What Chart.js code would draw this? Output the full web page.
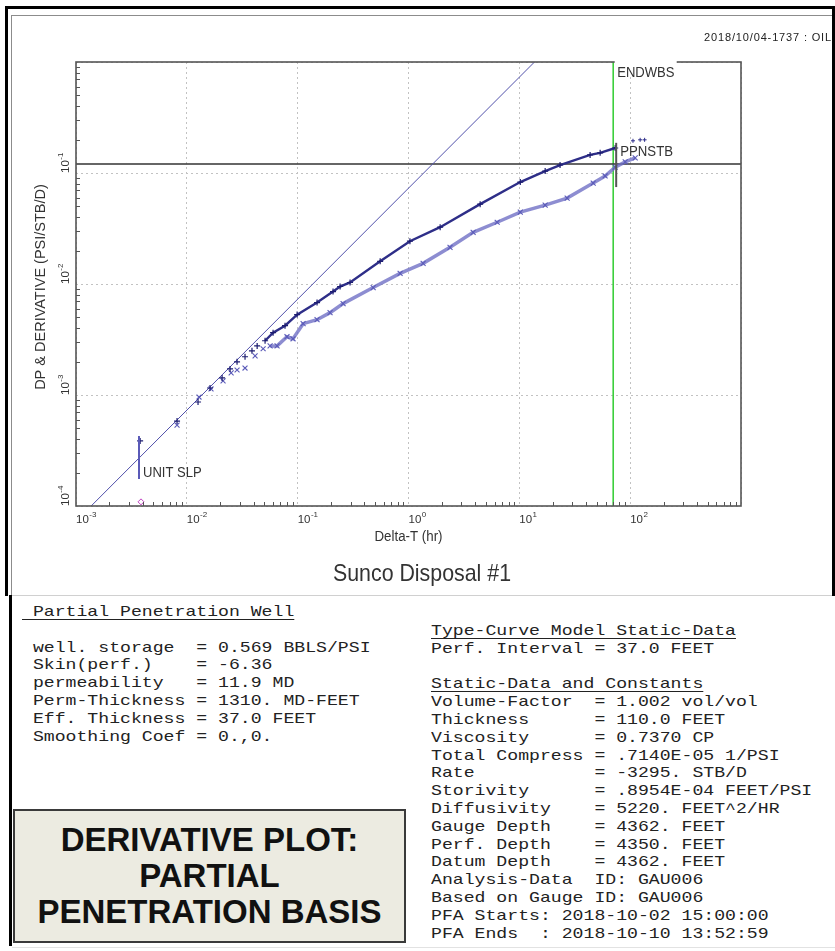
<!DOCTYPE html>
<html>
<head>
<meta charset="utf-8">
<script src="https://cdn.jsdelivr.net/npm/chart.js@4.4.1/dist/chart.umd.min.js"></script>
<style>
  body { margin: 0; background: #fff; }
  #page { position: relative; width: 835px; height: 951px; overflow: hidden; background: #fff; }
  .bar { position: absolute; background: #000; }
  #panel { position: absolute; left: 11px; top: 15px; width: 821px; height: 581px; box-sizing: border-box;
           border-top: 1px solid #8c8c8c; border-left: 1px solid #8c8c8c; border-bottom: 1px solid #d0d0d0; }
  #chart { position: absolute; left: 12px; top: 17px; }
  #stamp { position: absolute; right: 3px; top: 31px; font: 11px "Liberation Sans", Arial, sans-serif;
           letter-spacing: 0.85px; color: #222; white-space: nowrap; }
  pre.txt { position: absolute; margin: 0; font: 15px "Liberation Mono", monospace; line-height: 17.8px;
            color: #222; transform: scaleX(1.21); transform-origin: 0 0; }
  .ul { text-decoration: underline; text-underline-offset: 3px; text-decoration-thickness: 1px; }
  #box { position: absolute; left: 13px; top: 809px; width: 393px; height: 134px; box-sizing: border-box;
         border: 2px solid #3a3a3a; background: #ecebe1; text-align: center; color: #111;
         font: bold 33px "Liberation Sans", Arial, sans-serif; line-height: 36px; padding-top: 11px; }
</style>
</head>
<body>
<div id="page">
  <div id="panel"></div>
  <div class="bar" style="left:5px;top:6px;width:830px;height:3px"></div>
  <div class="bar" style="left:5px;top:6px;width:3px;height:590px"></div>
  <div class="bar" style="left:832px;top:6px;width:3px;height:590px"></div>
  <div class="bar" style="left:9px;top:595px;width:3px;height:351px"></div>
  <div style="position:absolute;left:12px;top:947px;width:823px;height:1px;background:#e2e2e2"></div>
  <canvas id="chart" width="820" height="578"></canvas>
  <div id="stamp">2018/10/04-1737 : OIL</div>
<pre class="txt" style="left:22px;top:604px"><span class="ul"> Partial Penetration Well</span>

 well. storage  = 0.569 BBLS/PSI
 Skin(perf.)    = -6.36
 permeability   = 11.9 MD
 Perm-Thickness = 1310. MD-FEET
 Eff. Thickness = 37.0 FEET
 Smoothing Coef = 0.,0.</pre>
<pre class="txt" style="left:431px;top:623px"><span class="ul">Type-Curve Model Static-Data</span>
Perf. Interval = 37.0 FEET

<span class="ul">Static-Data and Constants</span>
Volume-Factor  = 1.002 vol/vol
Thickness      = 110.0 FEET
Viscosity      = 0.7370 CP
Total Compress = .7140E-05 1/PSI
Rate           = -3295. STB/D
Storivity      = .8954E-04 FEET/PSI
Diffusivity    = 5220. FEET^2/HR
Gauge Depth    = 4362. FEET
Perf. Depth    = 4350. FEET
Datum Depth    = 4362. FEET
Analysis-Data  ID: GAU006
Based on Gauge ID: GAU006
PFA Starts: 2018-10-02 15:00:00
PFA Ends  : 2018-10-10 13:52:59</pre>
  <div id="box">DERIVATIVE PLOT:<br>PARTIAL<br>PENETRATION BASIS</div>
</div>

<script>
// Delta-T (hr) vs DP (psi/STB/D)
const dpTime = [0.00379, 0.00816, 0.01262, 0.01619, 0.0208, 0.02455, 0.02838, 0.0335, 0.0387, 0.0431, 0.0508, 0.060, 0.0769, 0.0989, 0.1496, 0.2085, 0.2415, 0.297, 0.555, 1.03, 1.93, 4.43, 10.2, 17.1, 23.3, 43.5, 53.6, 73.3];
const dpValue = [3.86e-4, 5.82e-4, 8.65e-4, 1.156e-3, 1.426e-3, 1.718e-3, 1.99e-3, 2.21e-3, 2.50e-3, 2.77e-3, 3.08e-3, 3.64e-3, 4.21e-3, 5.30e-3, 6.80e-3, 8.55e-3, 9.49e-3, 0.01032, 0.0160, 0.0243, 0.0325, 0.0524, 0.0829, 0.104, 0.118, 0.1455, 0.152, 0.168];
// a few points after the end of the analysis window
const dpLateTime = [106, 123, 135];
const dpLateValue = [0.195, 0.199, 0.199];

// Delta-T (hr) vs derivative (psi/STB/D)
const derTime = [0.00816, 0.01288, 0.01652, 0.02123, 0.0251, 0.0284, 0.0335, 0.0413, 0.0488, 0.0564, 0.0652, 0.0801, 0.0908, 0.112, 0.1496, 0.196, 0.257, 0.48, 0.84, 1.355, 2.37, 3.83, 6.31, 10.2, 17.1, 27.0, 46.4, 59.4, 73.3, 90.2, 111];
const derValue = [5.36e-4, 9.59e-4, 1.133e-3, 1.34e-3, 1.58e-3, 1.68e-3, 1.75e-3, 2.25e-3, 2.61e-3, 2.77e-3, 2.77e-3, 3.35e-3, 3.21e-3, 4.39e-3, 4.77e-3, 5.52e-3, 6.66e-3, 9.29e-3, 0.01245, 0.01534, 0.0214, 0.0292, 0.0360, 0.0444, 0.0513, 0.0594, 0.0812, 0.094, 0.113, 0.126, 0.137];

// reference lines and markers
const unitSlopeTime = [0.00137, 13.7];
const unitSlopeValue = [1e-4, 1];
const endwbsTime = 70.3;
const ppnstbLevel = 0.1205;
const ppnstbMarkTime = [74.8, 74.8];
const ppnstbMarkValue = [0.0747, 0.187];
const unitMarkTime = [0.0037, 0.0037];
const unitMarkValue = [1.75e-4, 4.27e-4];
const firstPointTime = [0.00386];
const firstPointValue = [1.09e-4];

const xExps = [-3, -2, -1, 0, 1, 2];   // labelled decades
const yExps = [-4, -3, -2, -1];

const pts = (xs, ys) => xs.map((t, i) => ({x: t, y: ys[i]}));
const decades = (a, b) => { const t = []; for (let e = a; e <= b; e++) t.push({value: Math.pow(10, e)}); return t; };
const FONT = '"Liberation Sans", Arial, sans-serif';

function narrowText(ctx, s, x, y, size, sx, align) {
  ctx.save();
  ctx.translate(x, y);
  ctx.scale(sx, 1);
  ctx.font = size + 'px ' + FONT;
  ctx.textAlign = align || 'left';
  ctx.fillText(s, 0, 0);
  ctx.restore();
}

function powLabel(ctx, e, x, y) {
  ctx.font = '11.5px ' + FONT;
  ctx.textAlign = 'left';
  ctx.fillText('10', x, y);
  const w = ctx.measureText('10').width;
  ctx.font = '8px ' + FONT;
  ctx.fillText(String(e), x + w + 0.5, y - 6);
}

const decor = {
  id: 'decor',
  afterDraw(chart) {
    const {ctx, chartArea: a, scales: {x, y}} = chart;
    ctx.save();

    // minor ticks inside the plot
    ctx.strokeStyle = '#555';
    ctx.lineWidth = 1;
    ctx.beginPath();
    for (let e = -3; e < 3; e++) for (let k = 2; k < 10; k++) {
      const px = Math.round(x.getPixelForValue(k * Math.pow(10, e))) + 0.5;
      ctx.moveTo(px, a.bottom); ctx.lineTo(px, a.bottom - 4);
    }
    for (let e = -4; e < 0; e++) for (let k = 2; k < 10; k++) {
      const py = Math.round(y.getPixelForValue(k * Math.pow(10, e))) + 0.5;
      ctx.moveTo(a.left, py); ctx.lineTo(a.left + 4, py);
    }
    ctx.stroke();

    // plot frame
    ctx.strokeStyle = '#555';
    ctx.lineWidth = 1.6;
    ctx.strokeRect(a.left, a.top, a.right - a.left, a.bottom - a.top);

    ctx.fillStyle = '#333';
    // tick labels
    xExps.forEach(e => powLabel(ctx, e, x.getPixelForValue(Math.pow(10, e)), a.bottom + 17));
    yExps.forEach(e => {
      ctx.save();
      ctx.translate(a.left - 7, y.getPixelForValue(Math.pow(10, e)));
      ctx.rotate(-Math.PI / 2);
      powLabel(ctx, e, 0, 0);
      ctx.restore();
    });

    // axis titles and title
    narrowText(ctx, 'Delta-T (hr)', (a.left + a.right) / 2, a.bottom + 35, 14, 0.95, 'center');
    narrowText(ctx, 'Sunco Disposal #1', chart.width / 2, a.bottom + 75, 24, 0.89, 'center');
    ctx.save();
    ctx.translate(33, 270);
    ctx.rotate(-Math.PI / 2);
    ctx.font = '14.5px ' + FONT;
    ctx.textAlign = 'center';
    ctx.fillText('DP & DERIVATIVE (PSI/STB/D)', 0, 0);
    ctx.restore();

    // marker labels
    const gx = x.getPixelForValue(endwbsTime);
    ctx.fillStyle = '#fff';
    ctx.fillRect(gx + 1.5, a.top - 3, 62, 18);
    ctx.fillStyle = '#333';
    narrowText(ctx, 'ENDWBS', gx + 4, a.top + 15, 15, 0.87);
    narrowText(ctx, 'PPNSTB', x.getPixelForValue(ppnstbMarkTime[1]) + 4,
               y.getPixelForValue(ppnstbMarkValue[1]) + 13, 15, 0.88);
    narrowText(ctx, 'UNIT SLP', x.getPixelForValue(unitMarkTime[0]) + 4,
               y.getPixelForValue(unitMarkValue[0]) - 2, 15, 0.87);
    ctx.restore();
  }
};

const logAxis = (min, max, lo, hi, pos) => ({
  type: 'logarithmic', position: pos, min: min, max: max,
  afterBuildTicks: s => { s.ticks = decades(lo, hi); },
  afterFit: s => { if (pos === 'bottom') s.height = 0; else s.width = 0; },
  ticks: {display: false},
  grid: {color: '#c2c2c2', lineWidth: 1, drawTicks: false},
  border: {display: false, dash: [2, 3]}
});

// early points are plotted as loose markers, later ones form a dense band
const bandWidth = (early, wide) => c => c.p0.parsed.x < 0.05 ? early : wide;

new Chart(document.getElementById('chart').getContext('2d'), {
  type: 'scatter',
  data: {
    datasets: [
      { // ENDWBS
        data: pts([endwbsTime, endwbsTime], [1e-4, 1]),
        showLine: true, pointRadius: 0, borderColor: '#3ccf3c', borderWidth: 1.6, order: 7
      },
      { // stabilisation level
        data: pts([1e-3, 1e3], [ppnstbLevel, ppnstbLevel]),
        showLine: true, pointRadius: 0, borderColor: '#333', borderWidth: 1.3, order: 6
      },
      { // unit slope
        data: pts(unitSlopeTime, unitSlopeValue),
        showLine: true, pointRadius: 0, borderColor: '#5050aa', borderWidth: 1, order: 5
      },
      { // derivative
        data: pts(derTime, derValue),
        showLine: true, borderColor: 'rgba(110,110,200,0.8)', borderWidth: 3.5,
        segment: {
          borderWidth: bandWidth(0, 3.5),
          borderColor: c => c.p0.parsed.x < 0.05 ? 'rgba(0,0,0,0)' : 'rgba(112,112,198,0.8)'
        },
        pointStyle: 'crossRot', pointRadius: 3.5, pointBorderWidth: 1.1, pointBorderColor: '#5a5ab8', order: 4
      },
      { // DP
        data: pts(dpTime, dpValue),
        showLine: true, borderColor: '#2a2a84', borderWidth: 2.2,
        segment: {
          borderWidth: bandWidth(0, 2.4),
          borderColor: c => c.p0.parsed.x < 0.05 ? 'rgba(0,0,0,0)' : '#2e2e88'
        },
        pointStyle: 'cross', pointRadius: 3, pointBorderWidth: 1.2, pointBorderColor: '#1c1c70', order: 3
      },
      {
        data: pts(dpLateTime, dpLateValue),
        showLine: false, pointStyle: 'cross', pointRadius: 2, pointBorderWidth: 1, pointBorderColor: '#2a2a88', order: 3
      },
      { // UNIT SLP marker
        data: pts(unitMarkTime, unitMarkValue),
        showLine: true, pointRadius: 0, borderColor: '#5a5ab8', borderWidth: 2, order: 2
      },
      { // PPNSTB marker
        data: pts(ppnstbMarkTime, ppnstbMarkValue),
        showLine: true, pointRadius: 0, borderColor: '#555', borderWidth: 2, order: 2
      },
      {
        data: pts(firstPointTime, firstPointValue),
        pointStyle: 'rectRot', pointRadius: 3, pointBorderWidth: 1,
        pointBorderColor: '#c040c0', pointBackgroundColor: '#fff', clip: false, order: 1
      }
    ]
  },
  options: {
    responsive: false,
    animation: false,
    layout: {padding: {left: 64, top: 45, right: 91, bottom: 89}},
    plugins: {legend: {display: false}, tooltip: {enabled: false}, title: {display: false}},
    scales: {
      x: logAxis(1e-3, 1e3, -3, 3, 'bottom'),
      y: logAxis(1e-4, 1, -4, 0, 'left')
    }
  },
  plugins: [decor]
});
</script>
</body>
</html>
